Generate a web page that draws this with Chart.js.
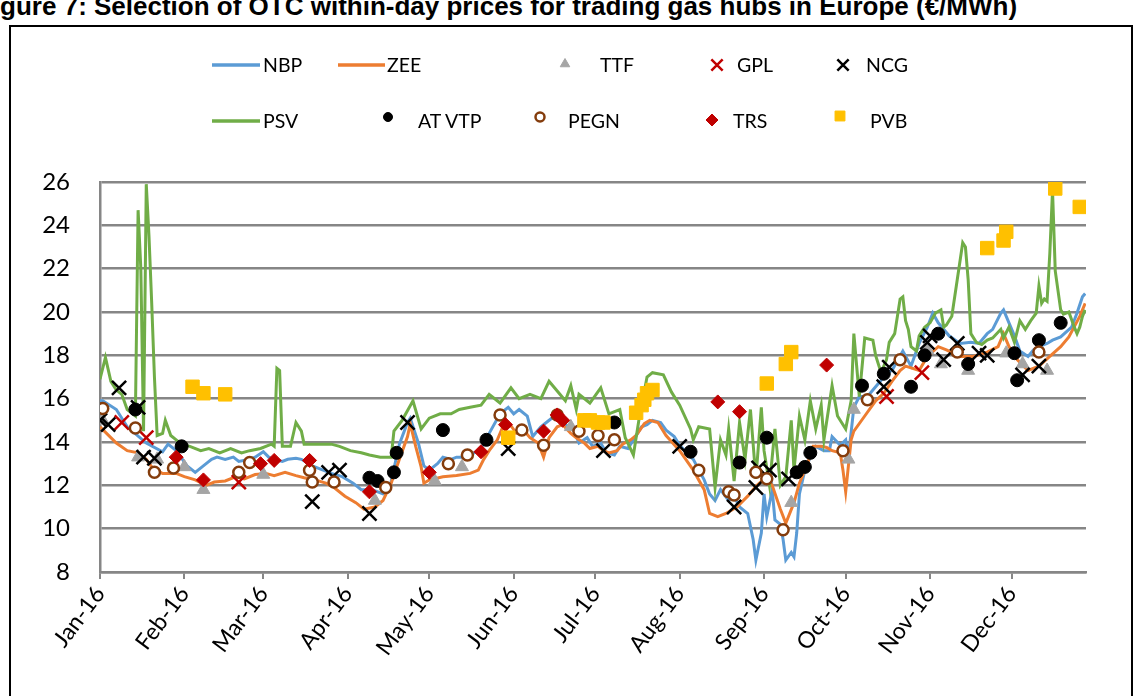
<!DOCTYPE html>
<html><head><meta charset="utf-8">
<script src="https://cdn.jsdelivr.net/npm/chart.js@4.4.0/dist/chart.umd.min.js"></script>
<style>
html,body{margin:0;padding:0;background:#fff;width:1135px;height:696px;overflow:hidden;position:relative}
#title{position:absolute;left:-23px;top:-7px;font:bold 26px "Liberation Sans",Arial,sans-serif;white-space:nowrap;line-height:26px;color:#000}
#box{position:absolute;left:9px;top:25px;width:1124px;height:700px;border:2px solid #000;box-sizing:border-box}
#c{position:absolute;left:0;top:0}
.lg{position:absolute;font:19.5px Lato,sans-serif;color:#000;line-height:24px;white-space:nowrap}
</style></head>
<body>
<div id="title">Figure 7: Selection of OTC within-day prices for trading gas hubs in Europe (€/MWh)</div>
<div id="box"></div>
<canvas id="c" width="1135" height="696"></canvas>
<script>
// ---- data (x = day of 2016, 0 = 1 Jan) ----
const monthStarts = [0,31,60,91,121,152,182,213,244,274,305,335];
const monthLabels = ['Jan-16','Feb-16','Mar-16','Apr-16','May-16','Jun-16','Jul-16','Aug-16','Sep-16','Oct-16','Nov-16','Dec-16'];
const yTicks = [8,10,12,14,16,18,20,22,24,26];
const seriesNames = ['NBP','ZEE','TTF','GPL','NCG','PSV','AT VTP','PEGN','TRS','PVB'];

const nbp = [[0,15.9],[1,15.9],[6,15.5],[10,14.7],[17,13.95],[23,13.55],[25,13.9],[28,13.6],[32,12.9],[35,12.6],[39,13.0],[41,13.2],[43,13.3],[46,13.2],[49,13.3],[51,13.1],[55,13.2],[57,13.3],[60,13.55],[62,13.3],[64,13.2],[67,13.1],[69,13.2],[72,13.25],[74,13.2],[78,12.9],[82,12.7],[85,12.55],[89,12.4],[93,12.1],[96,11.8],[100,11.8],[104,11.6],[106,11.7],[107,12.2],[110,13.9],[113,14.9],[114,15.1],[117,13.95],[119,12.9],[121,12.7],[124,13.0],[126,13.3],[129,13.2],[131,13.3],[133,13.3],[136,13.4],[139,13.6],[141,13.9],[143,14.4],[147,15.3],[150,15.6],[152,15.3],[154,15.5],[157,15.2],[159,14.25],[162,14.7],[164,14.9],[167,15.2],[169,15.1],[172,14.7],[174,14.55],[176,13.95],[179,14.2],[181,13.8],[184,13.95],[186,13.5],[189,13.4],[191,13.8],[194,13.7],[196,14.1],[199,14.7],[201,14.8],[203,15.0],[206,14.9],[208,14.55],[211,14.25],[213,13.85],[218,13.2],[222,12.25],[224,11.6],[226,11.3],[228,11.8],[231,11.3],[233,11.5],[235,11.0],[238,10.7],[240,9.5],[241,8.55],[243,9.8],[244,11.6],[245,10.55],[247,11.8],[248,10.4],[250,10.2],[251,9.5],[252,8.55],[254,8.9],[255,8.7],[256,9.8],[257,11.6],[259,12.7],[261,13.3],[263,13.8],[266,13.6],[268,13.6],[269,14.25],[272,13.85],[274,14.1],[275,13.3],[277,15.6],[279,16.1],[282,16.1],[284,16.4],[287,16.85],[289,17.2],[291,17.3],[295,18.2],[298,17.5],[301,18.55],[304,19.3],[306,19.95],[308,19.5],[310,19.2],[312,18.9],[316,18.55],[320,18.6],[323,18.55],[326,19.0],[328,19.2],[331,19.95],[332,20.1],[334,19.5],[336,18.9],[338,18.2],[341,17.95],[343,18.25],[345,18.4],[348,18.55],[350,18.7],[353,18.85],[357,19.3],[359,19.95],[361,20.7],[362,20.85]];

const zee = [[0,14.7],[6,13.95],[10,13.6],[14,13.5],[17,13.2],[19,12.85],[23,12.55],[28,12.55],[31,12.4],[35,12.25],[39,12.0],[42,12.15],[46,12.2],[50,12.4],[53,12.3],[57,12.5],[61,12.55],[64,12.45],[68,12.6],[72,12.45],[75,12.35],[79,12.25],[83,12.1],[86,11.9],[90,11.5],[94,11.2],[97,10.9],[101,11.0],[104,11.3],[107,12.1],[110,13.2],[113,14.25],[114,14.85],[116,13.8],[118,12.85],[119,12.1],[121,12.25],[126,12.4],[131,12.45],[136,12.55],[139,12.7],[141,13.2],[143,13.6],[146,14.1],[148,14.7],[151,14.75],[153,14.4],[156,14.5],[158,14.2],[161,13.95],[163,13.3],[165,14.2],[168,14.7],[170,14.8],[173,14.4],[175,14.2],[178,13.95],[180,13.7],[183,13.8],[185,13.6],[187,13.5],[190,13.6],[192,13.9],[195,14.1],[197,14.3],[200,14.85],[202,15.0],[205,14.9],[208,14.3],[213,13.6],[218,12.7],[222,11.8],[224,10.7],[227,10.55],[230,10.7],[234,11.0],[238,11.5],[241,11.95],[245,12.4],[247,12.0],[250,10.9],[252,10.25],[255,11.2],[257,12.1],[260,13.0],[262,13.8],[265,13.8],[267,13.75],[269,13.6],[272,13.5],[273,12.7],[274,11.7],[276,14.1],[277,14.5],[281,15.2],[285,15.9],[288,16.25],[291,16.8],[294,17.3],[296,17.5],[301,17.3],[304,17.95],[308,18.4],[311,18.25],[316,17.95],[321,17.95],[326,18.15],[330,18.4],[332,19.0],[334,18.4],[337,17.8],[341,17.3],[345,17.5],[349,17.95],[353,18.4],[356,18.85],[360,19.8],[362,20.4]];

const psv = [[0,16.9],[2,17.9],[4,16.8],[6,16.4],[8,16.2],[10,15.5],[12,15.3],[13,15.2],[14,24.7],[15,22.0],[16,14.5],[17,25.9],[18,23.5],[19,20.4],[20,17.0],[21,14.3],[23,14.4],[24,15.0],[26,14.3],[28,14.1],[30,13.9],[33,13.8],[37,13.6],[40,13.7],[44,13.5],[48,13.7],[52,13.5],[55,13.6],[59,13.7],[63,13.9],[64,13.8],[65,17.4],[66,17.3],[67,13.8],[70,13.8],[72,14.9],[74,14.5],[75,13.9],[79,13.9],[85,13.9],[88,13.8],[92,13.6],[96,13.5],[99,13.4],[103,13.3],[107,13.3],[108,14.5],[111,15.0],[115,15.9],[118,14.6],[121,15.1],[125,15.3],[129,15.3],[132,15.5],[136,15.6],[140,15.7],[143,16.2],[147,15.8],[151,16.5],[154,16.0],[158,16.2],[162,16.0],[165,16.8],[167,16.5],[171,15.9],[173,16.6],[175,15.5],[176,16.2],[180,15.8],[184,16.5],[187,15.3],[191,15.5],[193,14.2],[196,13.4],[198,15.0],[201,17.0],[203,17.2],[207,17.1],[210,16.3],[213,15.7],[217,14.6],[218,14.1],[220,14.7],[224,14.6],[226,11.9],[228,14.1],[230,13.4],[231,14.6],[233,12.2],[235,14.9],[237,13.2],[239,15.5],[241,12.3],[243,15.6],[244,13.6],[246,12.0],[248,14.6],[250,12.0],[252,12.4],[254,15.0],[255,12.7],[257,15.2],[259,14.1],[261,15.9],[263,14.6],[265,15.7],[266,14.1],[269,16.6],[271,15.2],[274,14.6],[276,15.9],[277,19.0],[279,16.1],[281,18.8],[284,18.7],[285,18.0],[287,17.2],[289,17.8],[290,18.6],[292,19.0],[294,20.6],[295,20.7],[296,19.6],[297,19.2],[298,18.4],[300,18.2],[301,18.9],[303,19.3],[305,19.5],[307,19.95],[309,20.1],[310,19.3],[311,19.4],[313,19.8],[315,21.5],[317,23.2],[318,23.0],[319,21.5],[320,19.0],[322,18.6],[324,18.5],[326,18.7],[328,18.8],[331,19.2],[332,18.8],[334,19.3],[336,18.6],[338,19.6],[340,19.2],[342,19.6],[344,19.95],[345,21.2],[346,20.4],[347,20.6],[348,20.5],[349,22.7],[350,25.6],[351,21.9],[353,20.1],[354,19.9],[356,20.0],[358,19.3],[359,19.0],[360,19.3],[361,19.8],[362,20.1]];

const ttf = [[1,15.0],[14,13.3],[21,13.2],[31,12.85],[38,11.8],[60,12.5],[101,11.3],[123,12.2],[133,12.85],[173,14.7],[254,11.2],[275,13.2],[277,15.5],[304,18.25],[309,17.6],[319,17.3],[333,18.1],[339,17.6],[348,17.3]];
const gpl = [[8,14.9],[17,14.2],[51,12.15],[289,16.1],[302,17.2]];
const ncg = [[0,15.0],[3,14.8],[7,16.5],[14,15.6],[16,13.3],[20,13.25],[78,11.25],[84,12.6],[88,12.7],[99,10.7],[113,14.9],[150,13.7],[185,13.6],[213,13.8],[233,11.0],[241,11.9],[242,12.8],[246,12.7],[253,12.3],[288,16.55],[290,17.45],[304,18.6],[305,18.9],[310,17.8],[315,18.55],[323,18.1],[326,18.0],[339,17.1],[345,17.5]];
const atvtp = [[13,15.5],[30,13.8],[99,12.35],[102,12.2],[108,12.6],[109,13.5],[126,14.55],[142,14.1],[189,14.9],[217,13.55],[235,13.05],[245,14.2],[256,12.6],[259,12.85],[261,13.5],[280,16.6],[288,17.15],[298,16.55],[303,18.0],[308,19.0],[319,17.6],[336,18.1],[337,16.85],[345,18.7],[353,19.5]];
const pegn = [[1,15.55],[13,14.65],[20,12.6],[27,12.8],[51,12.6],[55,13.05],[77,12.7],[78,12.15],[86,12.15],[105,11.9],[128,13.0],[135,13.4],[147,15.25],[155,14.55],[163,13.85],[168,15.25],[176,14.5],[183,14.3],[189,14.1],[220,12.7],[231,11.7],[233,11.55],[241,12.6],[245,12.3],[251,9.95],[273,13.6],[282,15.95],[294,17.8],[315,18.15],[345,18.15]];
const trs = [[28,13.3],[38,12.25],[59,13.0],[64,13.15],[77,13.15],[99,11.7],[121,12.6],[140,13.55],[149,14.8],[163,14.5],[168,15.25],[170,15.0],[227,15.85],[235,15.4],[267,17.55]];
const pvb = [[34,16.55],[38,16.25],[46,16.2],[150,14.2],[178,15.0],[180,15.0],[183,14.9],[185,14.9],[197,15.35],[199,15.7],[200,15.95],[201,16.25],[203,16.4],[245,16.7],[252,17.6],[254,18.15],[326,22.95],[332,23.3],[333,23.7],[351,25.7],[360,24.85]];

// ---- styling ----
const pts = a => a.map(p => ({x:p[0], y:p[1]}));
const lineDs = (label, data, color, order) => ({label, data:pts(data), showLine:true, borderColor:color, backgroundColor:color, borderWidth:3, pointRadius:0, tension:0, order});
const markDs = (label, data, style, radius, fill, stroke, bw, order) => ({label, data:pts(data), showLine:false, pointStyle:style, pointRadius:radius, pointBackgroundColor:fill, pointBorderColor:stroke, pointBorderWidth:bw, order});

const datasets = [
  lineDs(seriesNames[0], nbp, '#5B9BD5', 20),
  lineDs(seriesNames[1], zee, '#ED7D31', 19),
  lineDs(seriesNames[5], psv, '#70AD47', 18),
  markDs(seriesNames[2], ttf, 'triangle', 7.5, '#A5A5A5', '#A5A5A5', 1, 9),
  markDs(seriesNames[3], gpl, 'crossRot', 10, '#C00000', '#C00000', 2.5, 8),
  markDs(seriesNames[4], ncg, 'crossRot', 10, '#000000', '#000000', 2.5, 7),
  markDs(seriesNames[6], atvtp, 'circle', 6.5, '#000000', '#000000', 1, 6),
  markDs(seriesNames[7], pegn, 'circle', 5.5, '#FFFFFF', '#843C0C', 2.5, 5),
  markDs(seriesNames[8], trs, 'rectRot', 7, '#C00000', '#C00000', 1, 4),
  markDs(seriesNames[9], pvb, 'rect', 9.5, '#FFC000', '#FFC000', 1, 3)
];

// legend layout (HTML text + markers drawn on canvas)
const legendItems = [
  {name:seriesNames[0], kind:'line', color:'#5B9BD5', mx:212, mx2:260, my:65, ty:65, tx:263},
  {name:seriesNames[1], kind:'line', color:'#ED7D31', mx:338, mx2:385, my:65, ty:65, tx:387},
  {name:seriesNames[2], kind:'pt', ds:3, mx:565, my:64, r:5.5, ty:65, tx:600},
  {name:seriesNames[3], kind:'pt', ds:4, mx:717, my:65, r:8, ty:65, tx:737},
  {name:seriesNames[4], kind:'pt', ds:5, mx:843, my:65, r:8, ty:65, tx:866},
  {name:seriesNames[5], kind:'line', color:'#70AD47', mx:212, mx2:260, my:121, ty:121, tx:263},
  {name:seriesNames[6], kind:'pt', ds:6, mx:388, my:117, r:4.5, ty:121, tx:418},
  {name:seriesNames[7], kind:'pt', ds:7, mx:540, my:117, r:4.5, ty:121, tx:568},
  {name:seriesNames[8], kind:'pt', ds:8, mx:712, my:120, r:6, ty:121, tx:733},
  {name:seriesNames[9], kind:'pt', ds:9, mx:840, my:116, r:7, ty:121, tx:870}
];
legendItems.forEach(it => {
  const s = document.createElement('span');
  s.className = 'lg'; s.textContent = it.name;
  s.style.left = it.tx + 'px'; s.style.top = (it.ty - 12) + 'px';
  document.body.appendChild(s);
});

const legendPlugin = {
  id:'htmlLegendMarkers',
  afterDraw(chart){
    const ctx = chart.ctx;
    legendItems.forEach(it => {
      ctx.save();
      if (it.kind === 'line') {
        ctx.strokeStyle = it.color; ctx.lineWidth = 3.5;
        ctx.beginPath(); ctx.moveTo(it.mx, it.my); ctx.lineTo(it.mx2, it.my); ctx.stroke();
      } else {
        const d = datasets[it.ds];
        ctx.fillStyle = d.pointBackgroundColor; ctx.strokeStyle = d.pointBorderColor;
        ctx.lineWidth = d.pointBorderWidth;
        Chart.helpers.drawPoint(ctx, {pointStyle:d.pointStyle, radius:it.r, rotation:0, borderWidth:d.pointBorderWidth}, it.mx, it.my);
      }
      ctx.restore();
    });
  }
};

// y-axis tick labels, right-aligned 30px left of the axis line
const yLabelPlugin = {
  id:'yLabels',
  afterDraw(chart){
    const ctx = chart.ctx, ys = chart.scales.y;
    ctx.save();
    ctx.font = '24px Lato';
    ctx.fillStyle = '#000';
    ctx.textAlign = 'right';
    ctx.textBaseline = 'middle';
    yTicks.forEach(v => ctx.fillText(String(v), chart.chartArea.left - 30, ys.getPixelForValue(v)));
    ctx.restore();
  }
};

const GRID = '#868686';
new Chart(document.getElementById('c'), {
  type:'scatter',
  data:{datasets},
  options:{
    responsive:false, animation:false, devicePixelRatio:1, events:[],
    layout:{padding:{left:0, right:49, top:182, bottom:0}},
    plugins:{legend:{display:false}, tooltip:{enabled:false}},
    scales:{
      x:{
        type:'linear', min:0, max:362.3,
        afterBuildTicks: s => { s.ticks = monthStarts.map(v => ({value:v})); },
        afterFit: s => { s.height = 124; },
        grid:{drawOnChartArea:false, drawTicks:true, tickLength:7, color:GRID, tickColor:GRID, lineWidth:2},
        border:{display:true, color:GRID, width:2.5},
        ticks:{autoSkip:false, minRotation:53, maxRotation:53, padding:2, color:'#000', font:{family:'Lato', size:23},
          callback: v => monthLabels[monthStarts.indexOf(v)]}
      },
      y:{
        min:8, max:26,
        afterBuildTicks: s => { s.ticks = yTicks.map(v => ({value:v})); },
        afterFit: s => { s.width = 100; },
        grid:{color:GRID, lineWidth:2.5, drawTicks:false},
        border:{display:true, color:GRID, width:2.5},
        ticks:{display:false}
      }
    }
  },
  plugins:[legendPlugin, yLabelPlugin]
});
</script>
</body></html>
